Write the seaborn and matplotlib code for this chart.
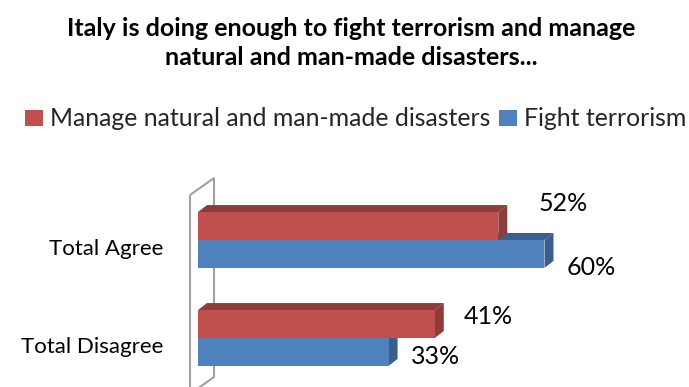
import matplotlib
matplotlib.use("Agg")
import matplotlib.pyplot as plt
import seaborn as sns
import pandas as pd
import numpy as np
from matplotlib.patches import Polygon
from matplotlib.transforms import IdentityTransform, Affine2D, ScaledTranslation

# ---- data ----
categories = ["Total Agree", "Total Disagree"]
series_names = ["Manage natural and man-made disasters", "Fight terrorism"]
manage_values = [52, 41]
fight_values = [60, 33]
title_text = "Italy is doing enough to fight terrorism and manage\nnatural and man-made disasters..."

front_colors = ["#C0504D", "#4F81BD"]
shade_colors = ["#8E3B39", "#3A5F8C"]

df = pd.DataFrame({
    "category": categories * 2,
    "series": [series_names[0]] * len(categories) + [series_names[1]] * len(categories),
    "value": manage_values + fight_values,
})

sns.set_theme(style="white")
plt.rcParams["font.family"] = ["Lato", "DejaVu Sans"]

W, H = 689, 387
fig = plt.figure(figsize=(W / 100, H / 100), dpi=100)
# pixel coordinates with top-left origin
pix = Affine2D().scale(1 / W, -1 / H).translate(0, 1) + fig.transFigure

ax_left, ax_top, ax_right, ax_bottom = 198, 180, 660, 387
ax = fig.add_axes([ax_left / W, 1 - ax_bottom / H, (ax_right - ax_left) / W, (ax_bottom - ax_top) / H])
ax.patch.set_visible(False)

sns.barplot(data=df, y="category", x="value", hue="series", orient="h",
            order=categories, hue_order=series_names, palette=front_colors,
            width=0.57, saturation=1, ax=ax, zorder=3, edgecolor="none", linewidth=0)

ax.set_xlim(0, 80)
ax.set_ylim(1.5, -0.612)
for s in ax.spines.values():
    s.set_visible(False)
ax.set_xticks([])
ax.set_xlabel("")
ax.set_ylabel("")
ax.tick_params(axis="y", length=0, pad=25, labelsize=16, labelcolor="black")
for lab in ax.get_yticklabels():
    lab.set_transform(lab.get_transform() + ScaledTranslation(0, -0.07, fig.dpi_scale_trans))

leg = ax.get_legend()
handles, labels = ax.get_legend_handles_labels()
if leg is not None:
    leg.remove()

# 3D depth faces
depth = np.array([9.0, 7.0])
fig.canvas.draw()
label_offsets = [[(40, -23), (29, -8)], [(22, 14), (22, 5)]]
for si, cont in enumerate(ax.containers):
    for bi, bar in enumerate(cont):
        x0, y0 = bar.get_x(), bar.get_y()
        w, h = bar.get_width(), bar.get_height()
        p = ax.transData.transform([(x0, y0), (x0 + w, y0), (x0 + w, y0 + h), (x0, y0 + h)])
        ys = p[:, 1]
        top = ys.max(); bot = ys.min()
        left = p[:, 0].min(); right = p[:, 0].max()
        top_face = [(left, top), (right, top), (right + depth[0], top + depth[1]), (left + depth[0], top + depth[1])]
        side_face = [(right, bot), (right, top), (right + depth[0], top + depth[1]), (right + depth[0], bot + depth[1])]
        z = 2 if si == 0 else 1
        for face in (top_face, side_face):
            poly = Polygon(face, closed=True, transform=IdentityTransform(),
                           facecolor=shade_colors[si], edgecolor="none", zorder=z)
            poly.set_clip_on(False)
            ax.add_artist(poly)
        vals = manage_values if si == 0 else fight_values
        dx, dy = label_offsets[si][bi]
        ax.annotate(f"{vals[bi]}%", xy=(x0 + w, y0 + h / 2), xytext=(dx * 0.72, -dy * 0.72),
                    textcoords="offset points", ha="left", va="center",
                    fontsize=18, color="black")

# wall (back panel outline)
wall = Polygon([(190, 195), (214, 178), (214, 377), (190, 394)], closed=True,
               transform=pix, facecolor="none", edgecolor="#A0A0A0", linewidth=1.5, zorder=-1)
wall.set_clip_on(False)
fig.add_artist(wall)

# title
fig.text(351 / W, 1 - 43 / H, title_text, ha="center", va="center",
         fontsize=18, fontweight="bold", linespacing=1.32, color="black")

# legend
fig.legend(handles, labels, loc="center", bbox_to_anchor=(356 / W, 1 - 119 / H),
           ncol=2, frameon=False, fontsize=17.9, handlelength=0.7, handleheight=0.62,
           handletextpad=0.3, columnspacing=0.35, borderpad=0, borderaxespad=0)

fig.savefig("out.png", dpi=100)
